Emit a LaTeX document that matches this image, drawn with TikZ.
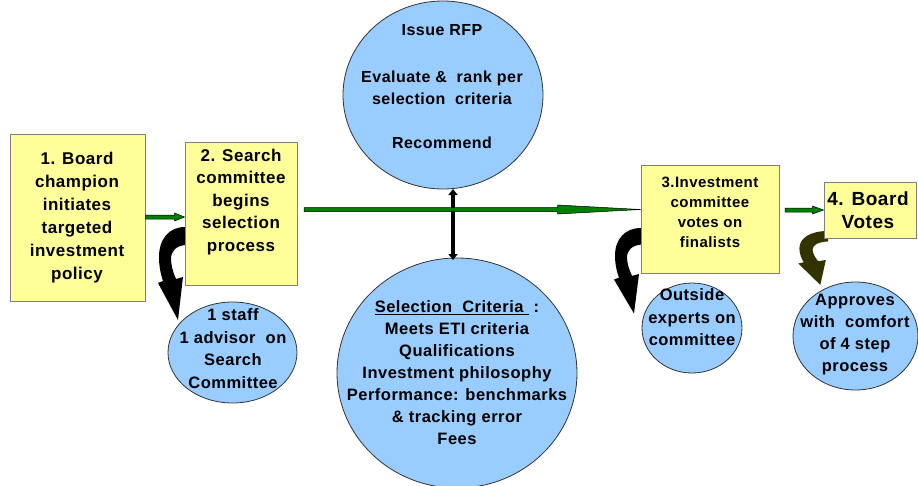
\documentclass[tikz,border=0pt]{standalone}
\usepackage{fontspec}
\setmainfont{Liberation Sans}[LetterSpace=3]
\usetikzlibrary{shapes.geometric,calc,arrows.meta}
\definecolor{boxyellow}{HTML}{FFFF99}
\definecolor{boxline}{HTML}{7F7F7F}
\definecolor{ellblue}{HTML}{99CCFF}
\definecolor{ellline}{HTML}{333333}
\definecolor{arrgreen}{HTML}{008000}
\definecolor{olive}{HTML}{333300}
\tikzset{
  stepbox/.style={draw=boxline, line width=1pt, fill=boxyellow, rectangle, inner sep=0pt},
  bubble/.style={draw=ellline, line width=0.8pt, fill=ellblue, ellipse, inner sep=0pt},
  txt/.style={align=center, inner sep=0pt, font=\bfseries\fontsize{17}{23}\selectfont},
  garrowstyle/.style={fill=arrgreen, draw=black, line width=0.5pt, line join=miter},
}
\newcommand\garrow[4]{%
  \filldraw[garrowstyle] ($(#1)+(0,-2)$) -- ($(#2)+(-#3,-2)$) -- ($(#2)+(-#3,-#4)$) -- (#2)
    -- ($(#2)+(-#3,#4)$) -- ($(#2)+(-#3,2)$) -- ($(#1)+(0,2)$) -- cycle;}
\newcommand\curvedarrowshape{%
  (0,0) .. controls (-16,0) and (-26,12) .. (-26,30) .. controls (-26,40) and (-24,48) .. (-22,54)
  -- (-27,56) -- (-7,93) -- (-2,50) -- (-9,52) .. controls (-12,45) and (-14,38) .. (-14,32)
  .. controls (-14,24) and (-9,19) .. (0,18) -- cycle}
\begin{document}
\begin{tikzpicture}[x=1pt,y=-1pt]
\useasboundingbox[fill=white] (0,0) rectangle (918,485);

% bubbles
\node[bubble, minimum width=200pt, minimum height=188pt] (topel) at (443,95) {};
\node[bubble, minimum width=240pt, minimum height=230pt] (botel) at (457,373) {};
\node[bubble, minimum width=129pt, minimum height=101pt] (c1) at (232.5,352.5) {};
\node[bubble, minimum width=100pt, minimum height=90pt] (c3) at (692,328) {};
\node[bubble, minimum width=125pt, minimum height=108pt] (c4) at (855.5,336) {};

% curved block arrows
\fill[black] [shift={(185,227)}] \curvedarrowshape;
\fill[black] [shift={(641,228)}, yscale=0.92] \curvedarrowshape;
\fill[olive] [shift={(828,231)}, xscale=1.1, yscale=0.58] \curvedarrowshape;

% boxes
\node[stepbox, minimum width=135pt, minimum height=167pt] (b1) at (77.5,217.5) {};
\node[stepbox, minimum width=112pt, minimum height=143pt] (b2) at (241,213.5) {};
\node[stepbox, minimum width=138pt, minimum height=108pt] (b3) at (710,219) {};
\node[stepbox, minimum width=92pt, minimum height=56pt] (b4) at (870,210) {};

% vertical double arrow
\coordinate (va1) at (453,189);
\coordinate (va2) at (453,260);
\draw[line width=3.5pt, {Triangle[length=6pt,width=9pt]}-{Triangle[length=6pt,width=9pt]}] (va1) -- (va2);

% green arrows
\coordinate (a1s) at (b1.east |- 0,217);
\coordinate (a1e) at (b2.west |- a1s);
\garrow{a1s}{a1e}{10}{4}
\coordinate (a2s) at (304,209.5);
\coordinate (a2e) at (b3.west |- a2s);
\garrow{a2s}{a2e}{83}{4.5}
\coordinate (a3s) at (785,210);
\coordinate (a3e) at (b4.west |- a3s);
\garrow{a3s}{a3e}{11}{4}

% texts
\node[txt] (t1) at (77,218) {1. Board\\champion\\initiates\\targeted\\investment\\policy};
\node[txt, font=\bfseries\fontsize{17}{22.5}\selectfont] (t2) at (241,202) {2. Search\\committee\\begins\\selection\\process};
\node[txt, font=\bfseries\fontsize{15}{20}\selectfont] (t3) at (710,212) {3.Investment\\committee\\votes on\\finalists};
\node[txt, font=\bfseries\fontsize{19}{23}\selectfont] (t4) at (868,210.5) {4. Board\\Votes};
\node[txt, font=\bfseries\fontsize{16}{22}\selectfont] (ttop) at (442,86.5) {Issue RFP\\[25pt]Evaluate \&~ rank per\\selection~ criteria\\[22pt]Recommend};
\node[txt, font=\bfseries\fontsize{16.5}{22}\selectfont] (tbot) at (457,373) {\underline{Selection~~Criteria~}~:\\Meets ETI criteria\\Qualifications\\Investment philosophy\\Performance: benchmarks\\\& tracking error\\Fees};
\node[txt, font=\bfseries\fontsize{16.5}{22.5}\selectfont] (tc1) at (233,348.5) {1 staff\\1 advisor~ on\\Search\\Committee};
\node[txt, font=\bfseries\fontsize{16.5}{22.5}\selectfont] (tc3) at (692,317.5) {Outside\\experts on\\committee};
\node[txt, font=\bfseries\fontsize{16.5}{22}\selectfont] (tc4) at (855,335) {Approves\\with~ comfort\\of 4 step\\process};
\end{tikzpicture}
\end{document}
